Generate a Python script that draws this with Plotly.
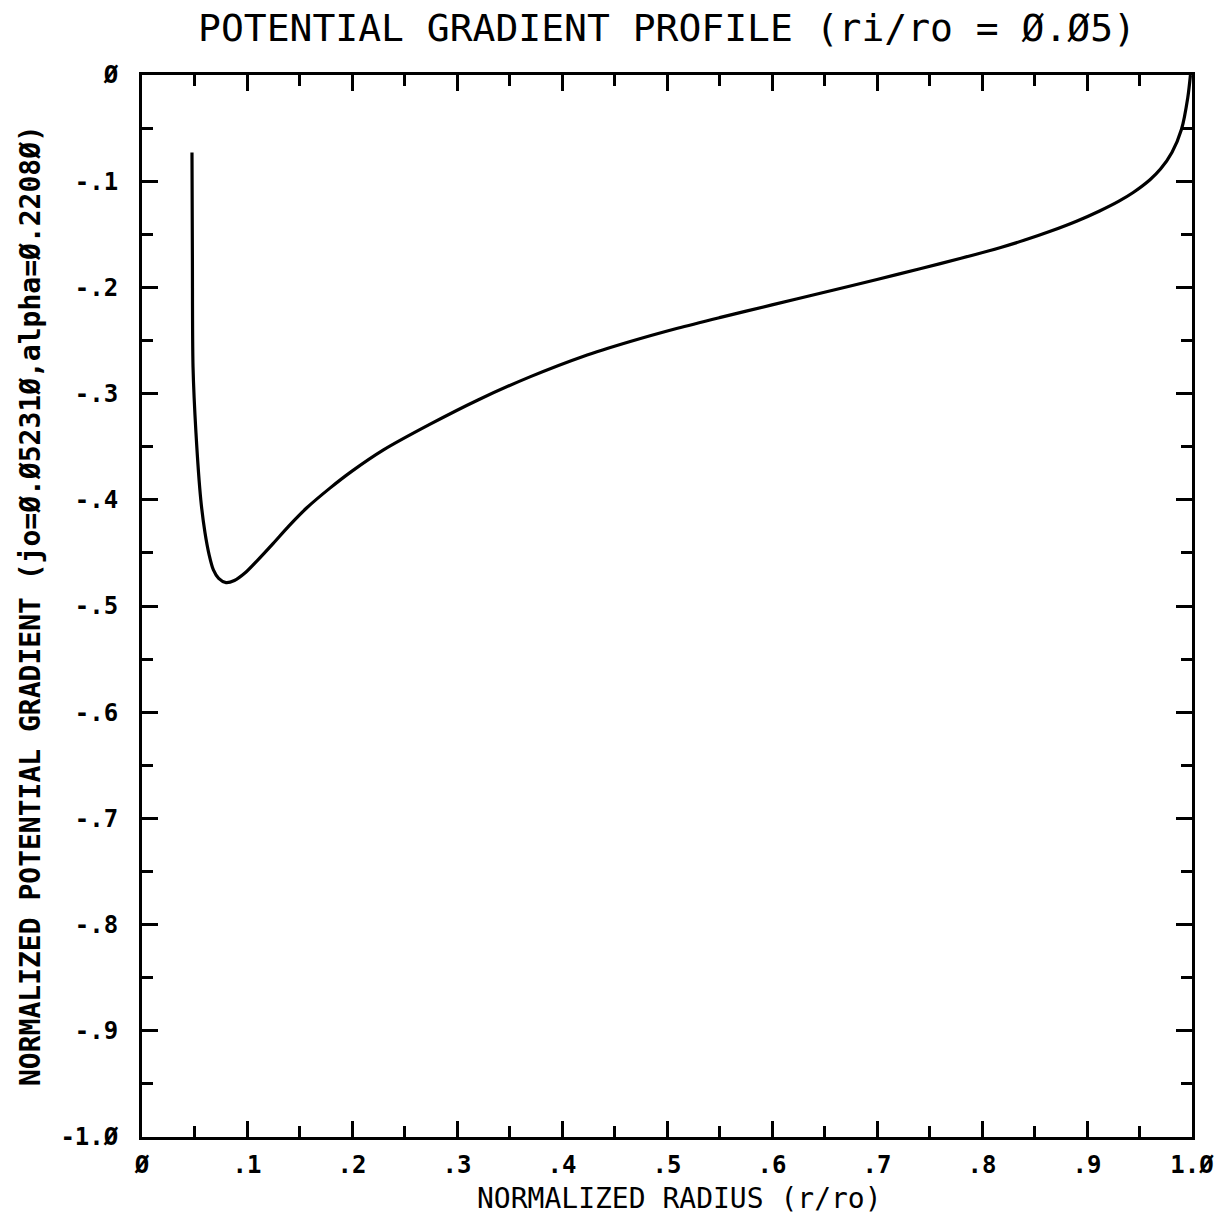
import plotly.graph_objects as go

# Curve data (normalized radius vs normalized potential gradient)
radius = [0.0476, 0.0480, 0.0486, 0.0514, 0.0560, 0.0600, 0.0640, 0.0680, 0.0730, 0.0800,
          0.0880, 0.0980, 0.1100, 0.1250, 0.1400, 0.1570, 0.1790, 0.2000, 0.2300, 0.2740,
          0.3200, 0.3700, 0.4200, 0.4650, 0.5100, 0.5500, 0.6000, 0.6460, 0.7000, 0.7410,
          0.7800, 0.8170, 0.8400, 0.8650, 0.8900, 0.9120, 0.9300, 0.9440, 0.9600, 0.9700,
          0.9810, 0.9900, 0.9960, 0.9985]
gradient = [-0.073, -0.173, -0.275, -0.337, -0.400, -0.431, -0.452, -0.466, -0.474, -0.478,
            -0.476, -0.469, -0.457, -0.441, -0.4245, -0.4075, -0.389, -0.373, -0.353, -0.329,
            -0.306, -0.284, -0.265, -0.251, -0.2385, -0.2285, -0.2165, -0.2055, -0.1925, -0.1825,
            -0.1726, -0.1626, -0.1557, -0.1472, -0.1377, -0.128, -0.119, -0.1106, -0.0986, -0.0886,
            -0.0727, -0.0511, -0.0211, 0.0]

x_tickvals = [0, 0.1, 0.2, 0.3, 0.4, 0.5, 0.6, 0.7, 0.8, 0.9, 1.0]
x_ticktext = ["Ø", ".1", ".2", ".3", ".4", ".5", ".6", ".7", ".8", ".9", "1.Ø"]
y_tickvals = [0, -0.1, -0.2, -0.3, -0.4, -0.5, -0.6, -0.7, -0.8, -0.9, -1.0]
y_ticktext = ["Ø", "-.1", "-.2", "-.3", "-.4", "-.5", "-.6", "-.7", "-.8", "-.9", "-1.Ø"]

title_text = "POTENTIAL GRADIENT PROFILE (ri/ro = Ø.Ø5)"
x_title = "NORMALIZED RADIUS (r/ro)"
y_title = "NORMALIZED POTENTIAL GRADIENT (jo=Ø.Ø5231Ø,alpha=Ø.2208Ø)"

MONO = "DejaVu Sans Mono"

fig = go.Figure()
fig.add_trace(go.Scatter(
    x=radius, y=gradient, mode="lines",
    line=dict(color="black", width=3.2, shape="spline", smoothing=0.8),
    showlegend=False, hoverinfo="skip",
))

axis_common = dict(
    showgrid=False, zeroline=False,
    showline=True, linecolor="black", linewidth=3, mirror="ticks",
    ticks="inside", ticklen=16, tickwidth=2.5, tickcolor="black",
    tickfont=dict(family=MONO, size=24, color="black", weight="bold"),
    minor=dict(ticks="inside", ticklen=11, tickwidth=2.5, tickcolor="black", dtick=0.05, showgrid=False),
)

fig.update_xaxes(range=[0, 1.0], tickvals=x_tickvals, ticktext=x_ticktext,
                 ticklabelstandoff=4, **axis_common)
fig.update_yaxes(range=[-1.0, 0], tickvals=y_tickvals, ticktext=y_ticktext,
                 ticklabelstandoff=16, **axis_common)

fig.update_layout(
    width=1230, height=1217,
    margin=dict(l=142, r=38, t=75, b=80),
    plot_bgcolor="white", paper_bgcolor="white",
    annotations=[
        dict(text=title_text, xref="paper", yref="paper", x=0.5, y=1, yshift=47,
             xanchor="center", yanchor="middle", showarrow=False,
             font=dict(family=MONO, size=38, color="black")),
        dict(text=x_title, xref="paper", yref="paper", x=0.512, y=0, yshift=-61,
             xanchor="center", yanchor="middle", showarrow=False,
             font=dict(family=MONO, size=28, color="black")),
        dict(text=y_title, xref="paper", yref="paper", x=0, y=0.5, xshift=-112,
             xanchor="center", yanchor="middle", showarrow=False, textangle=-90,
             font=dict(family=MONO, size=28, color="black", weight="bold")),
    ],
)

fig.write_html("out.html")
